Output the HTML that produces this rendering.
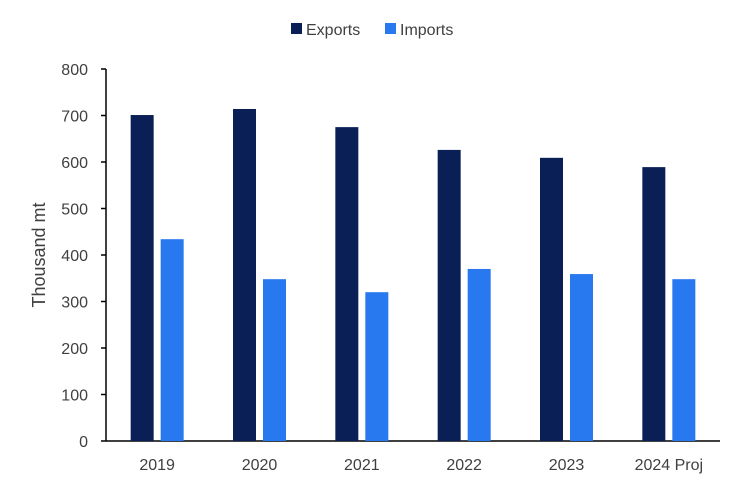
<!DOCTYPE html>
<html><head><meta charset="utf-8"><style>
body{margin:0;background:#fff;}
svg{display:block;font-family:"Liberation Sans",Arial,sans-serif;}
</style></head><body>
<svg id="chart" width="747" height="488">
<g id="legend">
<g><rect x="291" y="23" width="11" height="11" fill="#0a1f56"/><text x="306" y="35" font-size="16" fill="#404040">Exports</text></g>
<g><rect x="385" y="23" width="11" height="11" fill="#2878f0"/><text x="400" y="35" font-size="16" fill="#404040">Imports</text></g>
</g>
<text transform="translate(45,255) rotate(-90)" text-anchor="middle" font-size="18" fill="#404040">Thousand mt</text>
<g id="axes"></g>
<g id="bars"></g>
</svg>
<script>
const categories=["2019","2020","2021","2022","2023","2024 Proj"];
const exportsVals=[701,714,675,626,609,589];
const importsVals=[434,348,320,370,359,348];
const yTicks=[0,100,200,300,400,500,600,700,800];
const NS="http://www.w3.org/2000/svg";
const plotLeft=106,plotRight=720,plotTop=69,plotBottom=441,yMax=800;
const yScale=v=>plotBottom-(v/yMax)*(plotBottom-plotTop);
const band=(plotRight-plotLeft)/categories.length;
const xc=i=>plotLeft+band*(i+0.5);
function mk(tag,attrs,parent){const e=document.createElementNS(NS,tag);for(const k in attrs)e.setAttribute(k,attrs[k]);parent.appendChild(e);return e;}
const axesG=document.getElementById('axes'),barsG=document.getElementById('bars');
yTicks.forEach(t=>{
  const l=mk('line',{x1:plotLeft-5,x2:plotLeft,y1:yScale(t),y2:yScale(t),stroke:'#000','stroke-width':1.5},axesG);
  
  
  const tx=mk('text',{x:88,y:yScale(t)+6,'text-anchor':'end','font-size':16,fill:'#404040'},axesG);
  tx.textContent=t;
  
  
});
const ya=mk('line',{x1:plotLeft,x2:plotLeft,y1:plotTop,y2:plotBottom,stroke:'#000','stroke-width':1.5},axesG);


const xa=mk('line',{x1:plotLeft,x2:plotRight,y1:plotBottom,y2:plotBottom,stroke:'#000','stroke-width':1.5},axesG);


const bw=23,gap=7;
categories.forEach((c,i)=>{
  const cx=xc(i);
  const e=mk('rect',{x:cx-gap/2-bw,y:yScale(exportsVals[i]),width:bw,height:plotBottom-yScale(exportsVals[i]),fill:'#0a1f56'},barsG);
  
  
  const m=mk('rect',{x:cx+gap/2,y:yScale(importsVals[i]),width:bw,height:plotBottom-yScale(importsVals[i]),fill:'#2878f0'},barsG);
  
  
  const t=mk('text',{x:cx,y:470,'text-anchor':'middle','font-size':16,fill:'#404040'},axesG);
  t.textContent=c;
  
  
});
</script>
</body></html>
